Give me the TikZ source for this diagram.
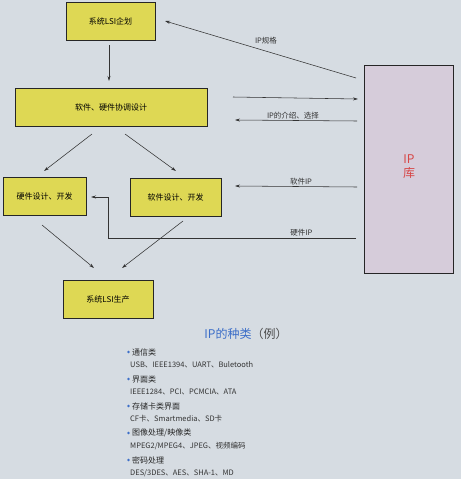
\documentclass[tikz,border=0pt]{standalone}
\usepackage{fontspec}
\newfontfamily\cjk{Noto Sans CJK SC}
\usepackage{xcolor}
\usetikzlibrary{arrows.meta,positioning}
\definecolor{bgcol}{RGB}{214,220,226}
\definecolor{stagefill}{RGB}{222,216,84}
\definecolor{libfill}{RGB}{214,204,218}
\definecolor{titleblue}{RGB}{60,110,200}
\definecolor{libred}{RGB}{215,70,70}
\tikzset{
  stage/.style={draw=black!85,fill=stagefill,line width=0.8pt,inner sep=0pt,
    minimum height=38pt,font=\cjk\fontsize{8}{9}\selectfont},
  flow/.style={-{Stealth[length=5pt,width=3pt]},draw=black!80,line width=0.55pt},
  tag/.style={font=\cjk\fontsize{7.5}{8}\selectfont,text=black!80,inner sep=1.5pt},
  head/.style={anchor=west,font=\cjk\fontsize{8}{9}\selectfont,text=black!85,inner sep=0pt},
  item/.style={anchor=west,font=\cjk\fontsize{7.5}{9}\selectfont,text=black!80,inner sep=0pt}
}
\begin{document}
\begin{tikzpicture}[x=1pt,y=-1pt]
  \useasboundingbox[fill=bgcol] (0,0) rectangle (461,479);
  % process boxes
  \node (plan) [stage,minimum width=89pt] at (110.5,21) {系统LSI企划};
  \node (cosys) [stage,minimum width=192pt] at (111,107.5) {软件、硬件协调设计};
  \node (hw) [stage,minimum width=83pt] at (44.5,196.5) {硬件设计、开发};
  \node (sw) [stage,minimum width=91pt] at (175.5,197.5) {软件设计、开发};
  \node (prod) [stage,minimum width=90pt] at (108,299) {系统LSI生产};
  \node (lib) [draw=black!85,fill=libfill,line width=0.8pt,minimum width=89pt,
    minimum height=208pt] at (408.5,169) {};
  \node [font=\cjk\fontsize{12}{14}\selectfont,text=libred,align=center] at (409,167) {IP\\库};
  % flow between the stages
  \coordinate (planOut) at (109,45);
  \coordinate (cosysIn) at (109,81);
  \draw [flow] (planOut) -- (cosysIn);
  \coordinate (leftOut) at (92,134);
  \coordinate (hwIn) at (44,171);
  \draw [flow] (leftOut) -- (hwIn);
  \coordinate (rightOut) at (125,134);
  \coordinate (swIn) at (176,171);
  \draw [flow] (rightOut) -- (swIn);
  \coordinate (hwOut) at (42,225);
  \coordinate (prodL) at (94,268);
  \draw [flow] (hwOut) -- (prodL);
  \coordinate (swOut) at (183,221);
  \coordinate (prodR) at (122,268);
  \draw [flow] (swOut) -- (prodR);
  % exchange with the IP library
  \coordinate (specA) at (356,78);
  \coordinate (specB) at (165,21);
  \draw [flow] (specA) -- (specB);
  \node [tag] at (266,41) {IP规格};
  \coordinate (askA) at (233,97);
  \coordinate (askB) at (358,99);
  \draw [flow] (askA) -- (askB);
  \coordinate (pickA) at (357,121);
  \coordinate (pickB) at (235,120);
  \draw [flow] (pickA) -- node [tag,above,xshift=-3pt] {IP的介绍、选择} (pickB);
  \coordinate (swA) at (357,187);
  \coordinate (swB) at (235,186);
  \draw [flow] (swA) -- node [tag,above,xshift=5pt] {软件IP} (swB);
  \coordinate (hwA) at (356,238);
  \coordinate (hwB) at (108,238);
  \coordinate (hwC) at (108,197);
  \coordinate (hwD) at (91,197);
  \draw [flow] (hwA) -- node [tag,above,pos=0.22] {硬件IP} (hwB) -- (hwC) -- (hwD);
  % kinds of IP
  \node (kinds) [font=\cjk\fontsize{12}{14}\selectfont,text=titleblue] at (246,334)
    {IP的种类\textcolor{black!70}{（例）}};
  \foreach \y/\h/\t in {352/通信类/{USB、IEEE1394、UART、Buletooth},
      379/界面类/{IEEE1284、PCI、PCMCIA、ATA},
      406/存储卡类界面/{CF卡、Smartmedia、SD卡},
      433/{图像处理/映像类}/{MPEG2/MPEG4、JPEG、视频编码},
      460/密码处理/{DES/3DES、AES、SHA-1、MD}}{
    \fill [titleblue] (128.5,\y) circle (1.3pt);
    \node [head] at (132,\y) {\h};
    \node [item] at (130,\y+13) {\t};
  }
\end{tikzpicture}
\end{document}
